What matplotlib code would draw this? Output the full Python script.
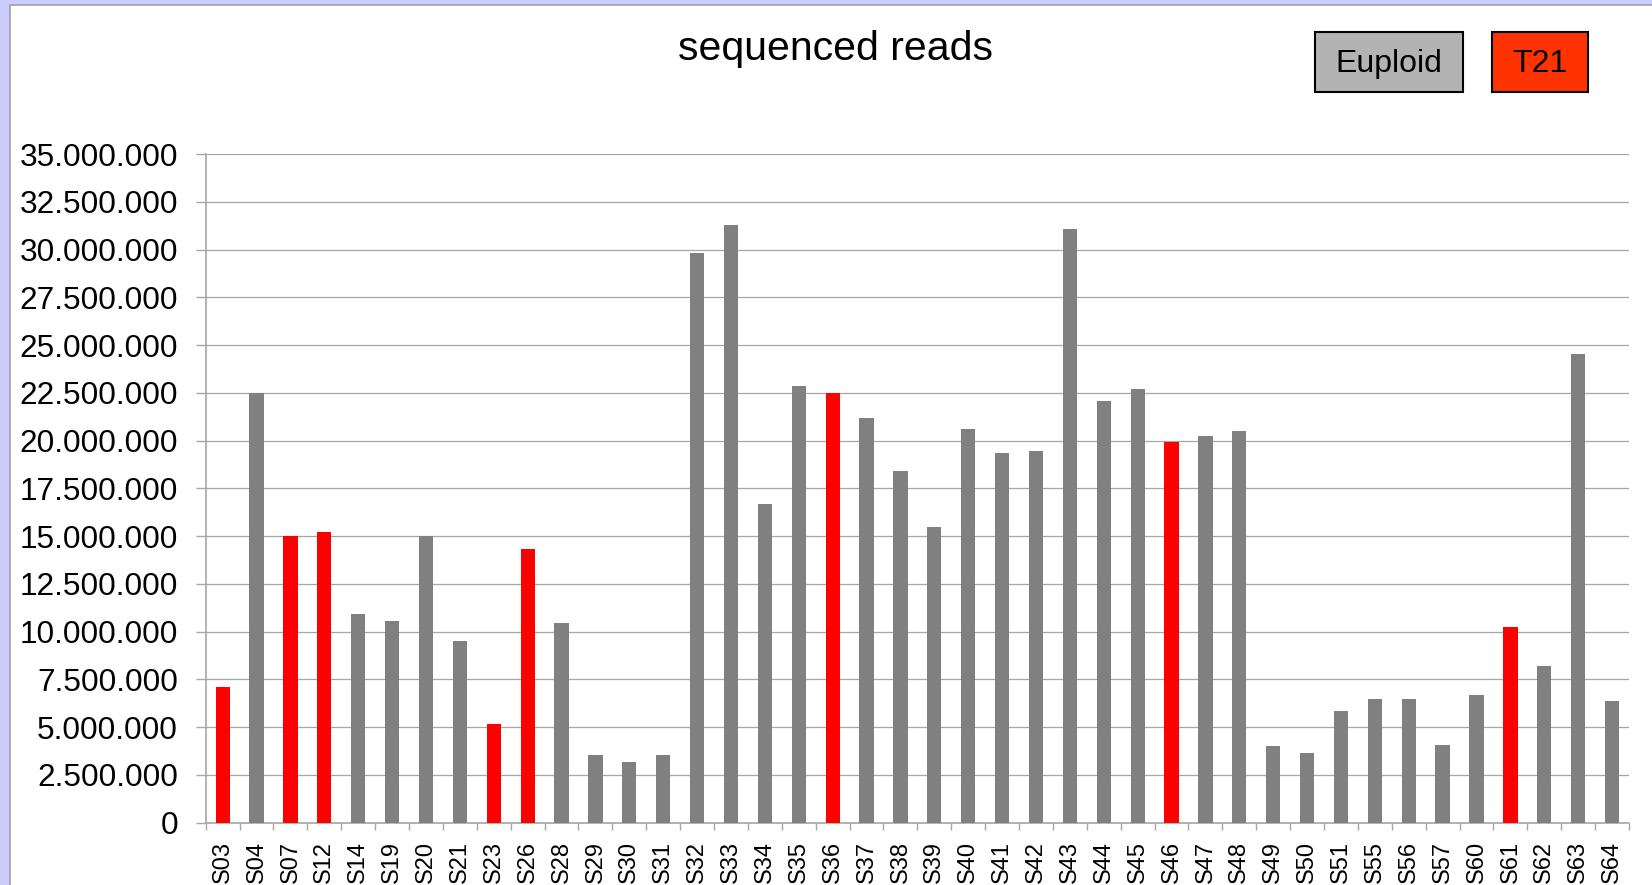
import numpy as np
import matplotlib.pyplot as plt
from matplotlib.patches import Rectangle
from matplotlib.ticker import FuncFormatter, MultipleLocator

plt.rcParams['font.family'] = ['Liberation Sans', 'DejaVu Sans']

# samples and their read counts
samples = ["S03", "S04", "S07", "S12", "S14", "S19", "S20", "S21", "S23", "S26",
           "S28", "S29", "S30", "S31", "S32", "S33", "S34", "S35", "S36", "S37",
           "S38", "S39", "S40", "S41", "S42", "S43", "S44", "S45", "S46", "S47",
           "S48", "S49", "S50", "S51", "S55", "S56", "S57", "S60", "S61", "S62",
           "S63", "S64"]
reads = [7_100_000, 22_500_000, 15_000_000, 15_200_000, 10_900_000, 10_550_000,
         15_000_000, 9_500_000, 5_150_000, 14_350_000, 10_450_000, 3_550_000,
         3_200_000, 3_550_000, 29_800_000, 31_300_000, 16_700_000, 22_850_000,
         22_500_000, 21_200_000, 18_400_000, 15_500_000, 20_600_000, 19_350_000,
         19_450_000, 31_100_000, 22_050_000, 22_700_000, 19_950_000, 20_250_000,
         20_500_000, 4_000_000, 3_650_000, 5_850_000, 6_450_000, 6_450_000,
         4_050_000, 6_700_000, 10_250_000, 8_200_000, 24_550_000, 6_350_000]
t21 = ["S03", "S07", "S12", "S23", "S26", "S36", "S46", "S61"]

W, H = 1652, 885
fig = plt.figure(figsize=(W / 100, H / 100), dpi=100, facecolor='#ccccff')

# white chart area with a thin grey frame
fig.patches.append(Rectangle((10 / W, -0.01), 1.0, 1 - 4.5 / H + 0.01,
                             transform=fig.transFigure, facecolor='white',
                             edgecolor='#a0a0a0', linewidth=1.2, zorder=-10))

ax = fig.add_axes([205.7 / W, 1 - 822.7 / H, (1629 - 205.7) / W, (822.7 - 154) / H])
ax.patch.set_alpha(0)

x = np.arange(len(samples))
colors = ['#ff0000' if s in t21 else '#808080' for s in samples]
ax.bar(x, reads, width=0.42, color=colors, zorder=3)

ax.set_xlim(-0.5, len(samples) - 0.5)
ax.set_ylim(0, 35_000_000)
ax.yaxis.set_major_locator(MultipleLocator(2_500_000))
ax.yaxis.set_major_formatter(FuncFormatter(lambda v, p: f"{int(v):,}".replace(",", ".")))
ax.grid(axis='y', color='#a6a6a6', linewidth=0.9, zorder=0)

ax.set_xticks(x)
ax.set_xticklabels(samples, rotation=90, fontsize=17)
ax.set_xticks(np.arange(len(samples) + 1) - 0.5, minor=True)
ax.tick_params(axis='x', which='major', length=0, pad=13)
ax.tick_params(axis='x', which='minor', length=5, color='#a6a6a6', width=1)
ax.tick_params(axis='y', length=7.2, color='#a6a6a6', width=1, pad=12.7, labelsize=22.7)

for side in ['top', 'right']:
    ax.spines[side].set_visible(False)
for side in ['left', 'bottom']:
    ax.spines[side].set_color('#a6a6a6')
    ax.spines[side].set_linewidth(1.2)

fig.text(836 / W, 1 - 49 / H, "sequenced reads", ha='center', va='center', fontsize=29.5)

# legend boxes
for label, fc, x0, x1 in [("Euploid", '#b3b3b3', 1315, 1463), ("T21", '#ff3300', 1492, 1588)]:
    fig.patches.append(Rectangle((x0 / W, 1 - 92 / H), (x1 - x0) / W, 60 / H,
                                 transform=fig.transFigure, facecolor=fc,
                                 edgecolor='black', linewidth=1.5, zorder=2))
    fig.text((x0 + x1) / 2 / W, 1 - 64 / H, label, ha='center', va='center', fontsize=23, zorder=3)

fig.savefig("out.png", dpi=100, facecolor=fig.get_facecolor())
